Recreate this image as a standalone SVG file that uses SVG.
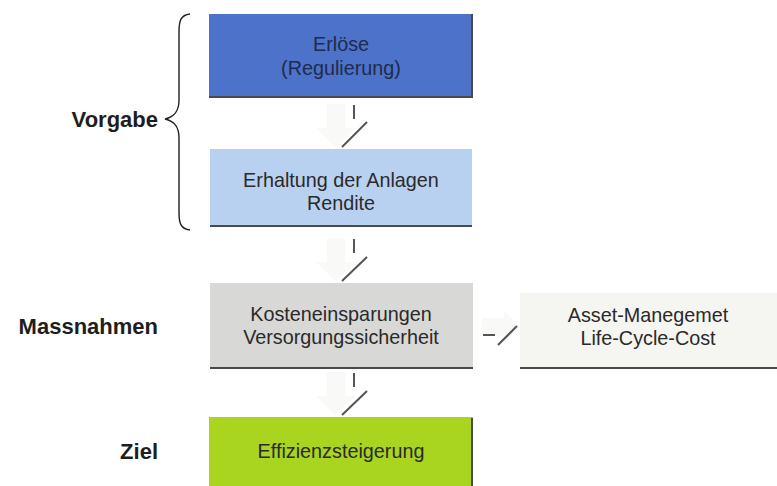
<svg xmlns="http://www.w3.org/2000/svg" width="777" height="486" viewBox="0 0 777 486">
<defs>
<style>
.box-text{font-family:"Liberation Sans",Arial,sans-serif;font-size:19.8px;fill:#2a2a2a;text-anchor:middle}
.lbl{font-family:"Liberation Sans",Arial,sans-serif;font-size:22px;font-weight:bold;fill:#1e1e1e;text-anchor:end}
.edge{fill:none;stroke:#1e1e1e;stroke-width:1.4}
.mark{stroke:#555;stroke-width:2;fill:none}
.ghost{fill:#f9f9f8}
.shade{stroke:#4a4a4a;stroke-width:2}
</style>
</defs>
<rect width="777" height="486" fill="#ffffff"/>

<g id="brace">
<path class="edge" d="M190,14 C180,15 179,22 179,32 L179,100 C179,112 174,117 165,119 C174,121 179,126 179,138 L179,212 C179,222 180,229 190,230"/>
</g>

<g id="labels">
<text class="lbl" x="158" y="127">Vorgabe</text>
<text class="lbl" x="158" y="334">Massnahmen</text>
<text class="lbl" x="158" y="459">Ziel</text>
</g>

<g id="connectors">
<path class="ghost" d="M327,104 L345,104 L345,128 L356,128 L336,148 L316,128 L327,128 Z"/>
<line class="mark" x1="354" y1="105" x2="354" y2="119"/>
<line class="mark" x1="367" y1="122" x2="342" y2="147"/>
<path class="ghost" d="M327,238 L345,238 L345,262 L356,262 L336,282 L316,262 L327,262 Z"/>
<line class="mark" x1="354" y1="239" x2="354" y2="253"/>
<line class="mark" x1="367" y1="257" x2="342" y2="281"/>
<path class="ghost" d="M327,372 L345,372 L345,396 L356,396 L336,416 L316,396 L327,396 Z"/>
<line class="mark" x1="354" y1="373" x2="354" y2="387"/>
<line class="mark" x1="367" y1="391" x2="342" y2="415"/>
<path class="ghost" d="M482,318 L504,318 L504,310 L520,327 L504,344 L504,336 L482,336 Z"/>
<line class="mark" x1="483" y1="335" x2="495" y2="335"/>
<line class="mark" x1="517" y1="326" x2="498" y2="345"/>
</g>

<g id="erloese">
<rect x="209" y="14" width="263" height="84" fill="#4c72c9"/>
<line class="shade" x1="209" y1="97" x2="473" y2="97"/>
<line class="shade" x1="472" y1="14" x2="472" y2="98"/>
<text class="box-text" x="341" y="51" style="fill:#1f2b4d">Erlöse</text>
<text class="box-text" x="341" y="75" style="fill:#1f2b4d">(Regulierung)</text>
</g>

<g id="erhaltung">
<rect x="210" y="149" width="262" height="78" fill="#b9d1f1"/>
<line class="shade" x1="210" y1="226" x2="472" y2="226"/>
<text class="box-text" x="341" y="187">Erhaltung der Anlagen</text>
<text class="box-text" x="341" y="210">Rendite</text>
</g>

<g id="kosten">
<rect x="210" y="283" width="263" height="86" fill="#d8d8d7"/>
<line class="shade" x1="210" y1="368" x2="473" y2="368"/>
<text class="box-text" x="341" y="321">Kosteneinsparungen</text>
<text class="box-text" x="341" y="344">Versorgungssicherheit</text>
</g>

<g id="asset">
<rect x="520" y="293" width="257" height="75" fill="#f5f5f2"/>
<line class="shade" x1="520" y1="368" x2="777" y2="368"/>
<text class="box-text" x="648" y="322">Asset-Manegemet</text>
<text class="box-text" x="648" y="345">Life-Cycle-Cost</text>
</g>

<g id="effizienz">
<rect x="209" y="417" width="264" height="69" fill="#a9d420"/>
<line class="shade" x1="472" y1="418" x2="472" y2="486"/>
<text class="box-text" x="341" y="458">Effizienzsteigerung</text>
</g>
</svg>
